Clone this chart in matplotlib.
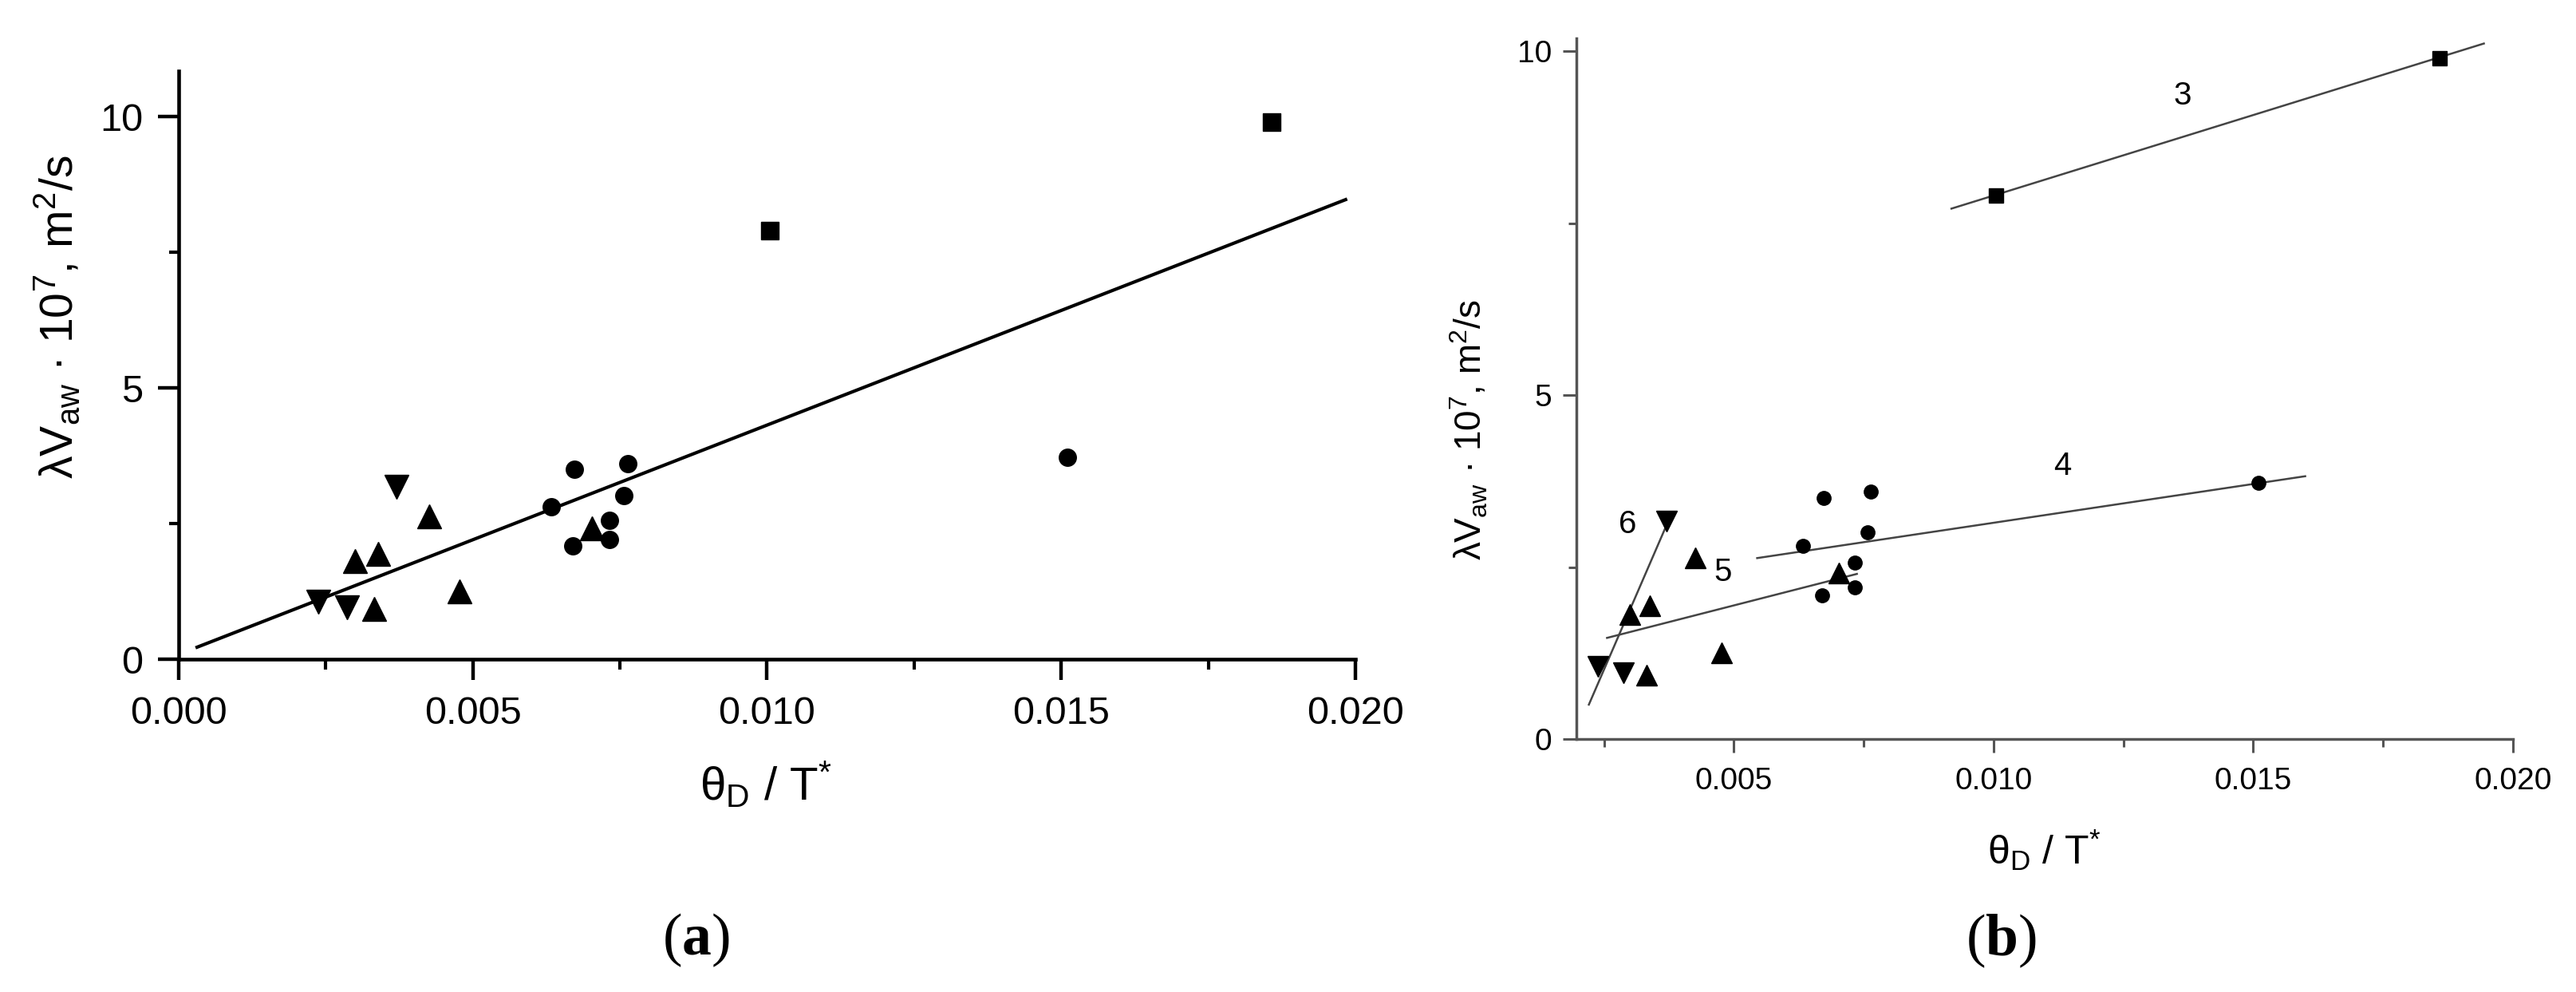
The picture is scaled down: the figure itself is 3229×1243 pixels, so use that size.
import matplotlib
matplotlib.use("Agg")
import matplotlib.pyplot as plt
from matplotlib.ticker import MultipleLocator, FormatStrFormatter

plt.rcParams['font.family'] = ['Liberation Sans', 'DejaVu Sans']
plt.rcParams['mathtext.fontset'] = 'custom'
plt.rcParams['mathtext.rm'] = 'Liberation Sans'
plt.rcParams['mathtext.it'] = 'Liberation Sans:italic'
plt.rcParams['mathtext.bf'] = 'Liberation Serif:bold'
plt.rcParams['mathtext.default'] = 'regular'

# ---- data ----
square_x = [0.01005, 0.01858]
square_y = [7.90, 9.90]
circle_x = [0.00673, 0.00763, 0.00633, 0.00757, 0.00733, 0.00670, 0.00733, 0.01510]
circle_y = [3.50, 3.60, 2.81, 3.01, 2.56, 2.09, 2.20, 3.72]
up_x = [0.00300, 0.00339, 0.00426, 0.00477, 0.00332, 0.00703]
up_y = [1.81, 1.94, 2.63, 1.25, 0.93, 2.41]
down_x = [0.00238, 0.00287, 0.00371]
down_y = [1.06, 0.96, 3.17]

# overall fit (panel a)
fit_all_x = [0.00029, 0.01986]
fit_all_y = [0.21, 8.48]
# group fits (panel b)
fit3_x = [0.00919, 0.01944]; fit3_y = [7.71, 10.11]
fit4_x = [0.00545, 0.01600]; fit4_y = [2.63, 3.82]
fit5_x = [0.00256, 0.00737]; fit5_y = [1.47, 2.40]
fit6_x = [0.00221, 0.00370]; fit6_y = [0.50, 3.10]
group_labels = ['3', '4', '5', '6']
group_label_x = [0.01364, 0.01132, 0.00479, 0.00295]
group_label_y = [9.35, 3.97, 2.42, 3.12]

xticks = [0.000, 0.005, 0.010, 0.015, 0.020]
yticks = [0, 5, 10]

ylabel = r'λV$_{aw}$ · 10$^{7}$, m$^{2}$/s'
xlabel = r'θ$_{D}$ / T$^{*}$'

W, H = 3229, 1243
fig = plt.figure(figsize=(W / 100, H / 100), dpi=100)

# ---------------- panel (a) ----------------
axa = fig.add_axes([223.7 / W, (H - 826) / H, (1699 - 223.7) / W, (826 - 88.9) / H])
axa.plot(fit_all_x, fit_all_y, color='black', lw=3.0, solid_capstyle='butt', zorder=2)
axa.plot(square_x, square_y, 's', color='black', ms=16, zorder=3)
axa.plot(circle_x, circle_y, 'o', color='black', ms=15.5, zorder=3)
axa.plot(up_x, up_y, '^', color='black', ms=22, zorder=3)
axa.plot(down_x, down_y, 'v', color='black', ms=22, zorder=3)
axa.set_xlim(0.0, 0.020)
axa.set_ylim(0, 10.84)
for s in ['top', 'right']:
    axa.spines[s].set_visible(False)
for s in ['left', 'bottom']:
    axa.spines[s].set_linewidth(3.3)
axa.set_xticks(xticks)
axa.set_yticks(yticks)
axa.xaxis.set_major_formatter(FormatStrFormatter('%.3f'))
axa.xaxis.set_minor_locator(MultipleLocator(0.0025))
axa.yaxis.set_minor_locator(MultipleLocator(2.5))
axa.tick_params(axis='both', which='major', direction='out', length=19, width=3.2, labelsize=35)
axa.tick_params(axis='x', which='major', pad=14)
axa.tick_params(axis='y', which='major', pad=13)
axa.tick_params(axis='both', which='minor', direction='out', length=9, width=3.0)
axa.patch.set_visible(False)

fig.text(72 / W, (H - 397) / H, ylabel, rotation=90, ha='center', va='center', fontsize=41)
fig.text(960 / W, (H - 1002) / H, xlabel, ha='center', va='baseline', fontsize=42)

# ---------------- panel (b) ----------------
gray = '#555555'
axb = fig.add_axes([1976 / W, (H - 926) / H, (3150 - 1976) / W, (926 - 48.5) / H])
for fx, fy in [(fit3_x, fit3_y), (fit4_x, fit4_y), (fit5_x, fit5_y), (fit6_x, fit6_y)]:
    axb.plot(fx, fy, color='#444444', lw=1.8, zorder=2)
axb.plot(square_x, square_y, 's', color='black', ms=12.5, zorder=3)
axb.plot(circle_x, circle_y, 'o', color='black', ms=12.5, zorder=3)
axb.plot(up_x, up_y, '^', color='black', ms=19, zorder=3)
axb.plot(down_x, down_y, 'v', color='black', ms=19, zorder=3)
for t, x, y in zip(group_labels, group_label_x, group_label_y):
    axb.text(x, y, t, ha='center', va='center', fontsize=29, color='black')
axb.set_xlim(0.00197, 0.020)
axb.set_ylim(0, 10.18)
for s in ['top', 'right']:
    axb.spines[s].set_visible(False)
for s in ['left', 'bottom']:
    axb.spines[s].set_linewidth(2.5)
    axb.spines[s].set_color(gray)
axb.set_xticks(xticks[1:])
axb.set_yticks(yticks)
axb.xaxis.set_major_formatter(FormatStrFormatter('%.3f'))
axb.xaxis.set_minor_locator(MultipleLocator(0.0025))
axb.yaxis.set_minor_locator(MultipleLocator(2.5))
axb.tick_params(axis='both', which='major', direction='out', length=12, width=2.2,
                color=gray, labelsize=28)
axb.tick_params(axis='x', which='major', pad=13)
axb.tick_params(axis='y', which='major', pad=10)
axb.tick_params(axis='both', which='minor', direction='out', length=7, width=2.2, color=gray)
axb.patch.set_visible(False)

fig.text(1842 / W, (H - 539) / H, ylabel, rotation=90, ha='center', va='center', fontsize=33)
fig.text(2562 / W, (H - 1083) / H, xlabel, ha='center', va='baseline', fontsize=36)

# ---------------- captions ----------------
fig.text(872 / W, (H - 1178) / H, r'($\mathbf{a}$)', ha='center', va='center',
         fontsize=53, family=['Liberation Serif', 'DejaVu Serif'])
fig.text(2508 / W, (H - 1179) / H, r'($\mathbf{b}$)', ha='center', va='center',
         fontsize=53, family=['Liberation Serif', 'DejaVu Serif'])

fig.savefig('out.png', dpi=100, facecolor='white')
